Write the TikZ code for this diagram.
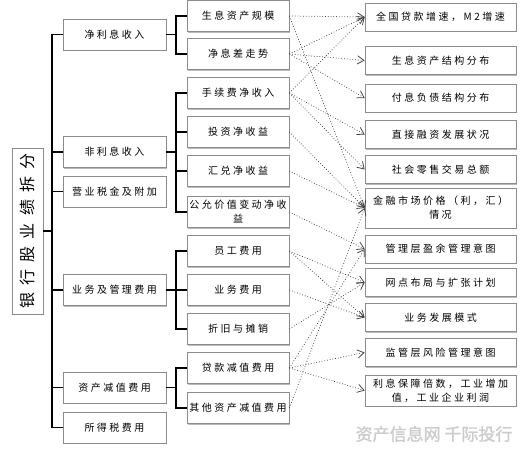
\documentclass[tikz,border=0pt]{standalone}
\usepackage{fontspec}
\setmainfont{Noto Sans CJK SC}[LetterSpace=25]
\newfontfamily\rootfont{Noto Sans CJK SC}[LetterSpace=45]
\newfontfamily\wmfont{Noto Sans CJK SC}[FakeBold=1.5]
\usetikzlibrary{arrows.meta, shadows}

\begin{document}
\begin{tikzpicture}[
  x=1pt, y=-1pt, line width=0.7pt,
  >={Straight Barb[length=2.3mm, width=2.9mm]},
  box/.style={draw=black!45, fill=white, inner sep=1pt, align=center,
    font=\fontsize{10}{14}\selectfont,
    drop shadow={shadow xshift=1.3pt, shadow yshift=-1.3pt, fill=black!45, opacity=0.6}},
  rootblk/.style={box, minimum width=31pt, minimum height=166pt},
  catblk/.style={box, minimum width=103pt, minimum height=31pt},
  subblk/.style={box, minimum width=102pt, minimum height=31pt},
  facblk/.style={box, minimum width=151pt, minimum height=28pt},
  bus/.style={draw=black, line width=1.6pt},
  link/.style={->, draw=black!75, dotted, line width=0.75pt}]

  \useasboundingbox (0,0) rectangle (523,449);

  % raiz
  \node[rootblk] (root) at (27.5,231)
    {\rotatebox{90}{\rootfont\fontsize{16}{16}\selectfont 银行股业绩拆分}};

  % primer nivel
  \node[catblk] (nii) at (114.5,34.5)  {净利息收入};
  \node[catblk] (fii) at (114.5,152)   {非利息收入};
  \node[catblk] (tax) at (114.5,191.5) {营业税金及附加};
  \node[catblk] (opx) at (114.5,290)   {业务及管理费用};
  \node[catblk] (imp) at (114.5,387.5) {资产减值费用};
  \node[catblk] (itx) at (114.5,427.5) {所得税费用};

  % segundo nivel
  \node[subblk] (ea)  at (238,16)  {生息资产规模};
  \node[subblk] (nim) at (238,54)  {净息差走势};
  \node[subblk] (fee) at (238,93)  {手续费净收入};
  \node[subblk] (inv) at (238,132) {投资净收益};
  \node[subblk] (fx)  at (238,171) {汇兑净收益};
  \node[subblk] (fv)  at (238,212) {公允价值变动净收\\益};
  \node[subblk] (stf) at (238,251) {员工费用};
  \node[subblk] (biz) at (238,290) {业务费用};
  \node[subblk] (dep) at (238,329) {折旧与摊销};
  \node[subblk] (lln) at (238,368) {贷款减值费用};
  \node[subblk] (oim) at (238,408) {其他资产减值费用};

  % factores
  \node[facblk] (m2)   at (440.5,17)    {全国贷款增速，M2增速};
  \node[facblk] (eas)  at (440.5,60.5)  {生息资产结构分布};
  \node[facblk] (lia)  at (440.5,98)    {付息负债结构分布};
  \node[facblk] (dfin) at (440.5,134.5) {直接融资发展状况};
  \node[facblk] (ret)  at (440.5,169.5) {社会零售交易总额};
  \node[facblk, minimum height=40pt] (mkt) at (440.5,208) {金融市场价格（利，汇）\\情况};
  \node[facblk] (mgt)  at (440.5,249)   {管理层盈余管理意图};
  \node[facblk] (net)  at (440.5,282.5) {网点布局与扩张计划};
  \node[facblk] (bmod) at (440.5,317.5) {业务发展模式};
  \node[facblk] (reg)  at (440.5,352.5) {监管层风险管理意图};
  \node[facblk, minimum height=31pt] (macro) at (440.5,390.5) {利息保障倍数，工业增加\\值，工业企业利润};

  % tronco
  \coordinate (trk) at (52,0);
  \draw[bus] (nii.west) -- (nii.west -| trk) -- (itx.west -| trk) -- (itx.west);
  \foreach \n in {fii,tax,opx,imp}
    \draw[bus] (\n.west) -- (\n.west -| trk);
  \draw[bus] (root.east) -- (root.east -| trk);

  % corchetes
  \coordinate (brk) at (176,0);
  \draw[bus] (ea.west) -- (ea.west -| brk) -- (nim.west -| brk) -- (nim.west);
  \draw[bus] (nii.east) -- (nii.east -| brk);
  \draw[bus] (fee.west) -- (fee.west -| brk) -- (fv.west -| brk) -- (fv.west);
  \foreach \n in {inv,fx}
    \draw[bus] (\n.west) -- (\n.west -| brk);
  \draw[bus] (fii.east) -- (fii.east -| brk);
  \draw[bus] (stf.west) -- (stf.west -| brk) -- (dep.west -| brk) -- (dep.west);
  \draw[bus] (biz.west) -- (biz.west -| brk);
  \draw[bus] (opx.east) -- (opx.east -| brk);
  \draw[bus] (lln.west) -- (lln.west -| brk) -- (oim.west -| brk) -- (oim.west);
  \draw[bus] (imp.east) -- (imp.east -| brk);

  % relaciones
  \draw[link] (ea.east)  -- (m2.west);
  \draw[link] (ea.east)  -- (mkt.west);
  \draw[link] (nim.east) -- (m2.west);
  \draw[link] (nim.east) -- (eas.west);
  \draw[link] (nim.east) -- (lia.west);
  \draw[link] (fee.east) -- (m2.west);
  \draw[link] (fee.east) -- (dfin.west);
  \draw[link] (fee.east) -- (ret.west);
  \draw[link] (inv.east) -- (mkt.west);
  \draw[link] (fx.east)  -- (mkt.west);
  \draw[link] (fv.east)  -- (mgt.west);
  \draw[link] (stf.east) -- (net.west);
  \draw[link] (stf.east) -- (bmod.west);
  \draw[link] (biz.east) -- (bmod.west);
  \draw[link] (dep.east) -- (net.west);
  \draw[link] (lln.east) -- (mgt.west);
  \draw[link] (lln.east) -- (reg.west);
  \draw[link] (lln.east) -- (macro.west);
  \draw[link] (oim.east) -- (mkt.west);

  % marca de agua
  \node[text=black!20, font=\wmfont\fontsize{17}{17}\selectfont] (wm) at (434,434) {资产信息网 千际投行};
\end{tikzpicture}
\end{document}
